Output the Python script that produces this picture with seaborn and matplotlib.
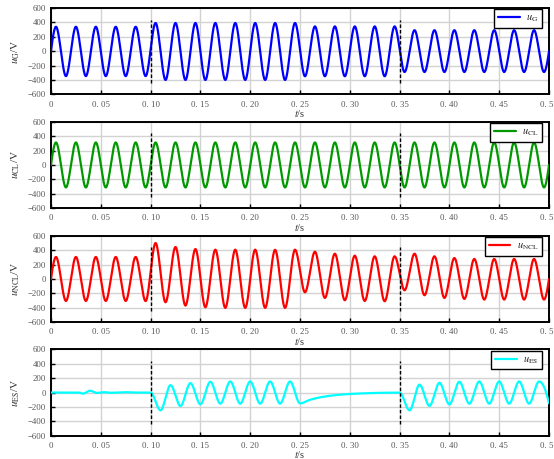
import numpy as np
import pandas as pd
import matplotlib
matplotlib.use("Agg")
import matplotlib.pyplot as plt
import matplotlib.transforms as mtransforms
import seaborn as sns

# ---------------- data ----------------
# extremum times of the 50 Hz waveforms (s)
t_peaks = [0.005 + 0.02 * j for j in range(25)]
t_troughs = [0.015 + 0.02 * j for j in range(25)]

uG_peaks = [340] * 5 + [392] * 8 + [345] * 5 + [292] * 7
uG_troughs = [-345] * 5 + [-398] * 7 + [-347] * 5 + [-288] * 8

uCL_peaks = [312] * 25
uCL_troughs = [-312] * 25

uNCL_peaks = [305, 305, 305, 305, 305, 498, 443, 415, 406, 406, 406, 404, 406,
              378, 350, 323, 314, 314, 350, 314, 290, 277, 277, 277, 277]
uNCL_troughs = [-305, -305, -305, -305, -307, -323, -369, -392, -401, -401, -401, -401,
                -185, -263, -295, -305, -309, -157, -226, -263, -277, -286, -286, -286, -286]

es_t = [0.0, 0.028, 0.032, 0.039, 0.046, 0.053, 0.060, 0.075, 0.085, 0.100,
        0.11, 0.12, 0.13, 0.14, 0.15, 0.16, 0.17, 0.18, 0.19, 0.20, 0.21, 0.22, 0.23, 0.24,
        0.25, 0.26, 0.27, 0.28, 0.29, 0.30, 0.31, 0.32, 0.33, 0.34, 0.35,
        0.36, 0.37, 0.38, 0.39, 0.40, 0.41, 0.42, 0.43, 0.44, 0.45, 0.46, 0.47, 0.48, 0.49, 0.50]
es_v = [0, 0, -15, 25, -5, 5, -3, 5, 0, 0,
        -247, 103, -187, 131, -163, 150, -154, 154, -154, 154, -154, 154, -154, 154,
        -150, -101, -67, -45, -30, -20, -13, -8, -4, -2, 0,
        -247, 110, -185, 135, -165, 150, -155, 154, -154, 154, -154, 154, -154, 154, -150]

switch_times = [0.10, 0.35]

x_ticks = [0, 0.05, 0.10, 0.15, 0.20, 0.25, 0.30, 0.35, 0.40, 0.45, 0.50]
x_tick_labels = ["0", "0. 05", "0. 10", "0. 15", "0. 20", "0. 25", "0. 30",
                 "0. 35", "0. 40", "0. 45", "0. 5"]
y_ticks = [-600, -400, -200, 0, 200, 400, 600]
y_tick_labels = ["\u2212600", "\u2212400", "\u2212200", "0", "200", "400", "600"]

names = ["G", "CL", "NCL", "ES"]
colors = ["#0000FF", "#009900", "#FF0000", "#00FFFF"]


def pchip(x, y, xq):
    x = np.asarray(x, float)
    y = np.asarray(y, float)
    h = np.diff(x)
    d = np.diff(y) / h
    n = len(x)
    m = np.zeros(n)
    for k in range(1, n - 1):
        if d[k - 1] * d[k] > 0:
            w1 = 2 * h[k] + h[k - 1]
            w2 = h[k] + 2 * h[k - 1]
            m[k] = (w1 + w2) / (w1 / d[k - 1] + w2 / d[k])

    def end(h0, h1, d0, d1):
        mm = ((2 * h0 + h1) * d0 - h0 * d1) / (h0 + h1)
        if np.sign(mm) != np.sign(d0):
            mm = 0.0
        elif np.sign(d0) != np.sign(d1) and abs(mm) > abs(3 * d0):
            mm = 3 * d0
        return mm

    m[0] = end(h[0], h[1], d[0], d[1])
    m[-1] = end(h[-1], h[-2], d[-1], d[-2])
    idx = np.clip(np.searchsorted(x, xq) - 1, 0, n - 2)
    hk = h[idx]
    s = (xq - x[idx]) / hk
    h00 = 2 * s**3 - 3 * s**2 + 1
    h10 = s**3 - 2 * s**2 + s
    h01 = -2 * s**3 + 3 * s**2
    h11 = s**3 - s**2
    return h00 * y[idx] + h10 * hk * m[idx] + h01 * y[idx + 1] + h11 * hk * m[idx + 1]


def wave_nodes(peaks, troughs):
    tt = [0.0]
    vv = [0.0]
    for tp, p, tq, q in zip(t_peaks, peaks, t_troughs, troughs):
        tt += [tp, tq]
        vv += [p, q]
    tt.append(0.5)
    vv.append(0.0)
    return tt, vv


t = np.linspace(0, 0.5, 5001)
series = {}
for nm, (pk, tr) in zip(["G", "CL", "NCL"], [(uG_peaks, uG_troughs),
                                               (uCL_peaks, uCL_troughs),
                                               (uNCL_peaks, uNCL_troughs)]):
    tn, vn = wave_nodes(pk, tr)
    series[nm] = pchip(tn, vn, t)
series["ES"] = pchip(es_t, es_v, t)

# ---------------- drawing ----------------
sns.set_style("white")
plt.rcParams["font.family"] = ["Liberation Serif", "DejaVu Serif"]
plt.rcParams["mathtext.fontset"] = "stix"
plt.rcParams["axes.unicode_minus"] = True

W, H = 554, 459
fig = plt.figure(figsize=(W / 100, H / 100), dpi=100)

left, right = 51, 549
tops = [8, 121.7, 235.7, 349.3]
ah = 86.5

for i, nm in enumerate(names):
    ax = fig.add_axes([left / W, 1 - (tops[i] + ah) / H, (right - left) / W, ah / H])
    df = pd.DataFrame({"t": t, "u": series[nm]})
    label = r"$u_{\mathrm{%s}}$" % nm
    sns.lineplot(data=df, x="t", y="u", ax=ax, color=colors[i], lw=1.6,
                 label=label, estimator=None, sort=False, zorder=3)
    ax.vlines(switch_times, -440, 440, colors="black", linestyles=(0, (2.5, 1.5)),
              lw=1.0, zorder=4)
    ax.set_xlim(0, 0.5)
    ax.set_ylim(-600, 600)
    ax.set_xticks(x_ticks)
    ax.set_xticklabels(x_tick_labels)
    ax.set_yticks(y_ticks)
    ax.set_yticklabels(y_tick_labels)
    ax.grid(True, color="#d2d2d2", lw=1.0, zorder=0)
    ax.set_axisbelow(True)
    for sp in ax.spines.values():
        sp.set_color("black")
        sp.set_linewidth(1.4)
        sp.set_visible(True)
    ax.tick_params(axis="both", direction="in", length=3, width=1.0, color="black",
                   labelsize=6.3, labelcolor="#555555", bottom=True, left=True)
    ax.tick_params(axis="x", pad=4.5)
    ax.tick_params(axis="y", pad=3.5)
    ax.set_xlabel(r"$t$/s", fontsize=7.5, color="#333333")
    ax.xaxis.set_label_coords(0.5, -0.155)
    ax.set_ylabel(r"$u_{\mathrm{%s}}$/V" % nm, fontsize=8.0, color="#333333")
    ax.yaxis.set_label_coords(-0.058, 0.5)
    leg = ax.legend(loc="upper right", bbox_to_anchor=(1 - 7 / 498, 1 - 1.3 / ah),
                    borderaxespad=0, fontsize=7.5, handlelength=2.1,
                    handletextpad=0.6, borderpad=0.35, fancybox=False, framealpha=1)
    leg.get_frame().set_edgecolor("black")
    leg.get_frame().set_linewidth(1.0)
    leg.set_zorder(10)
    # last x tick label sits at the right edge of the figure: keep it inside
    last = ax.xaxis.get_major_ticks()[-1].label1
    last.set_horizontalalignment("left")
    last.set_transform(last.get_transform() +
                       mtransforms.ScaledTranslation(-8.5 / 100, 0, fig.dpi_scale_trans))

fig.savefig("out.png", dpi=100)
